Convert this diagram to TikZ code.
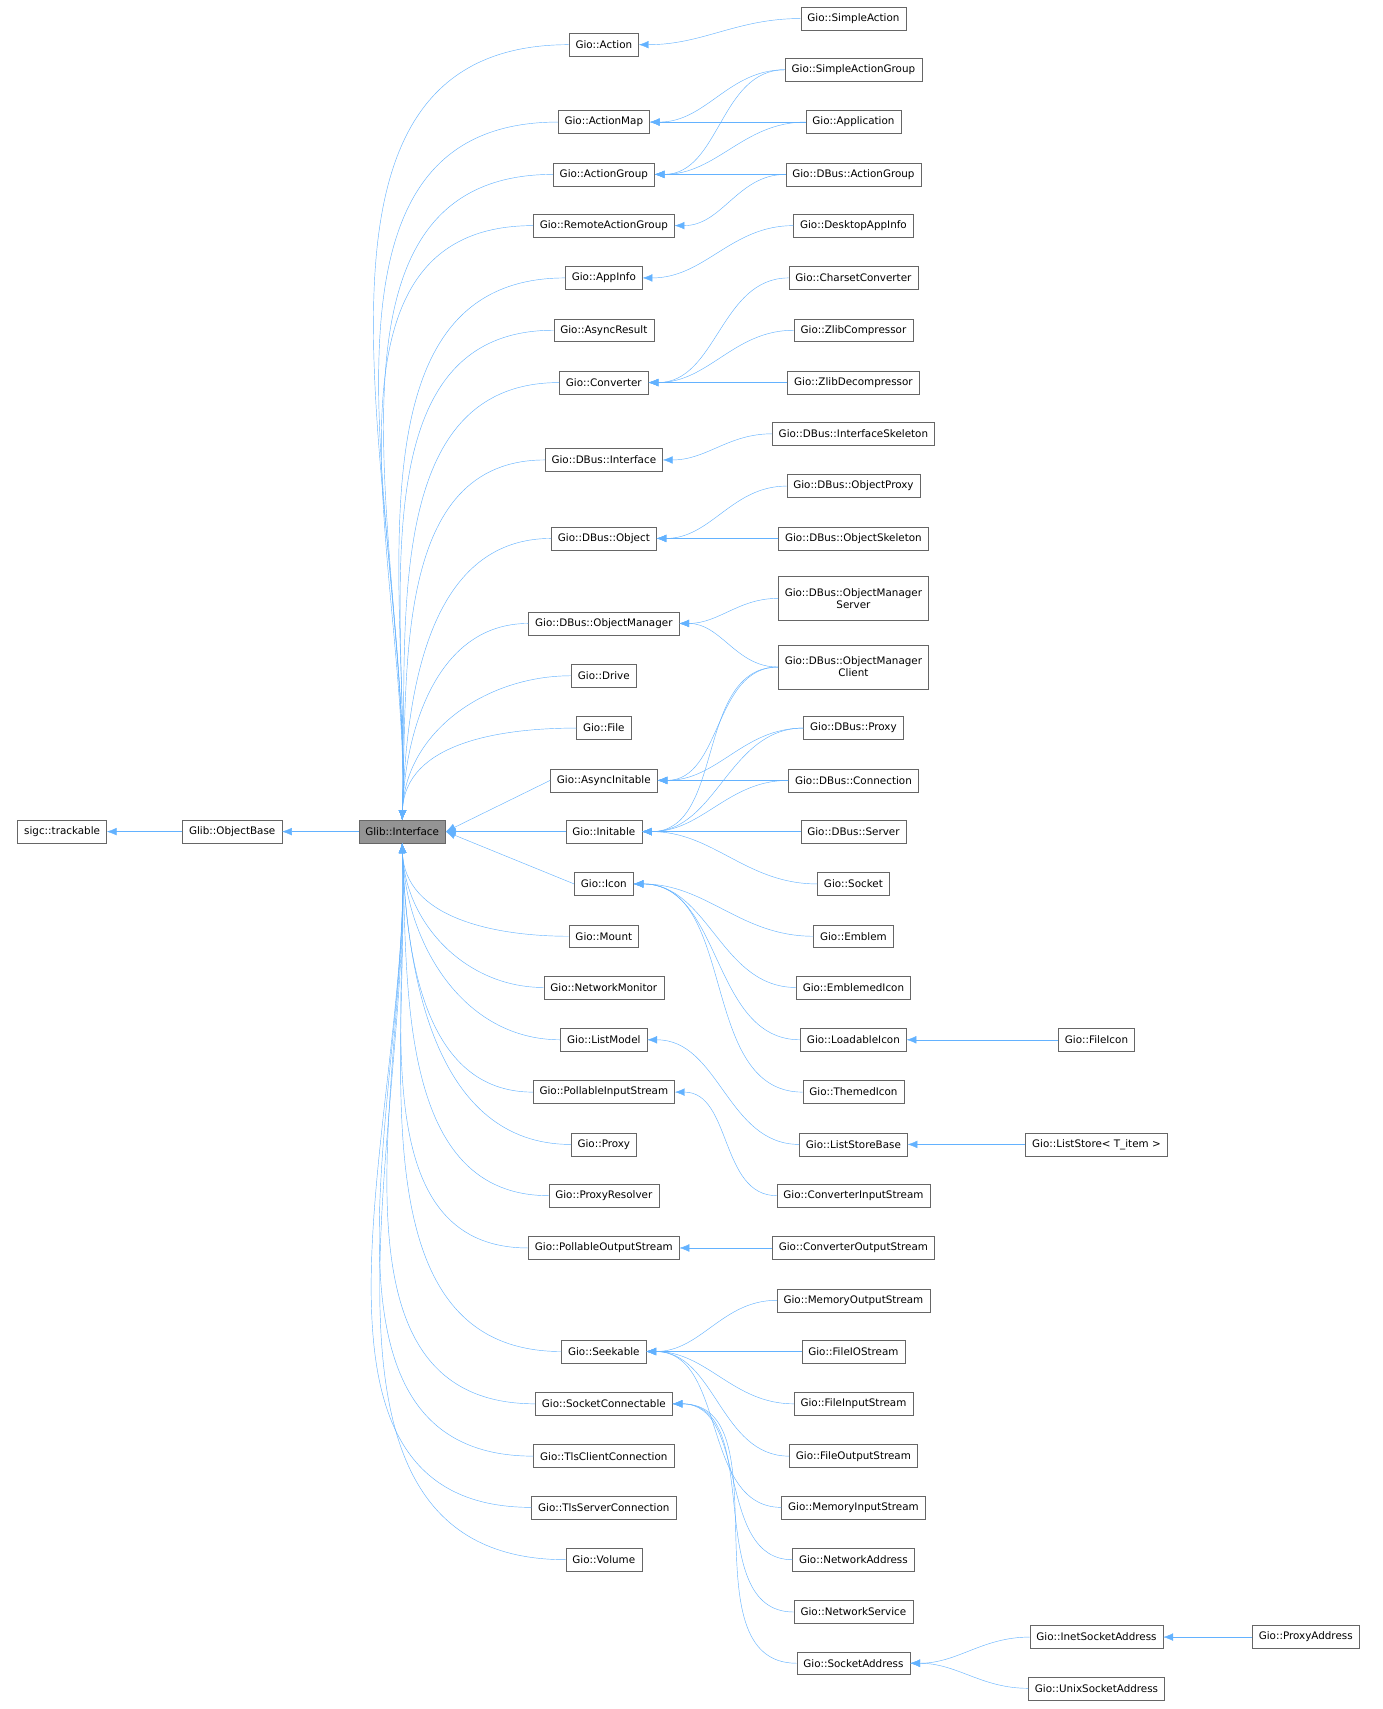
\documentclass[tikz,border=0pt]{standalone}
\usepackage{fontspec}
\setmainfont{DejaVu Sans}
\usetikzlibrary{arrows.meta}
\definecolor{edgeblue}{RGB}{99,178,255}
\tikzset{
	x=1pt, y=-1pt,
	cls/.style={draw=black!60, fill=white, font=\fontsize{9.5}{11}\selectfont, inner xsep=6pt, inner ysep=0pt, minimum height=21pt, align=center},
	inh/.style={draw=edgeblue, -{Latex[length=9pt,width=7pt]}}}

\begin{document}
\begin{tikzpicture}
	\useasboundingbox (0,0) rectangle (1268,1568);
	
	% base chain
	\node[cls] (track) at (57,763) {sigc::trackable};
	\node[cls] (obase) at (213,763) {Glib::ObjectBase};
	\node[cls, fill=black!42] (iface) at (369,763) {Glib::Interface};
	
	% direct interfaces
	\node[cls] (action) at (554,41) {Gio::Action};
	\node[cls] (amap) at (554,112) {Gio::ActionMap};
	\node[cls] (agroup) at (554,160) {Gio::ActionGroup};
	\node[cls] (ragroup) at (554,207) {Gio::RemoteActionGroup};
	\node[cls] (appinfo) at (554,255) {Gio::AppInfo};
	\node[cls] (aresult) at (554,303) {Gio::AsyncResult};
	\node[cls] (conv) at (554,351) {Gio::Converter};
	\node[cls] (dbiface) at (554,422) {Gio::DBus::Interface};
	\node[cls] (dbobj) at (554,494) {Gio::DBus::Object};
	\node[cls] (objman) at (554,572) {Gio::DBus::ObjectManager};
	\node[cls] (drive) at (554,620) {Gio::Drive};
	\node[cls] (file) at (554,668) {Gio::File};
	\node[cls] (ainit) at (554,716) {Gio::AsyncInitable};
	\node[cls] (init) at (554,763) {Gio::Initable};
	\node[cls] (icon) at (554,811) {Gio::Icon};
	\node[cls] (mount) at (554,859) {Gio::Mount};
	\node[cls] (netmon) at (554,906) {Gio::NetworkMonitor};
	\node[cls] (lmodel) at (554,954) {Gio::ListModel};
	\node[cls] (pinput) at (554,1002) {Gio::PollableInputStream};
	\node[cls] (proxy) at (554,1050) {Gio::Proxy};
	\node[cls] (presolv) at (554,1097) {Gio::ProxyResolver};
	\node[cls] (poutput) at (554,1145) {Gio::PollableOutputStream};
	\node[cls] (seek) at (554,1240) {Gio::Seekable};
	\node[cls] (sconn) at (554,1288) {Gio::SocketConnectable};
	\node[cls] (tlsc) at (554,1336) {Gio::TlsClientConnection};
	\node[cls] (tlss) at (554,1383) {Gio::TlsServerConnection};
	\node[cls] (volume) at (554,1431) {Gio::Volume};
	
	% implementations
	\node[cls] (saction) at (783,17) {Gio::SimpleAction};
	\node[cls] (sagroup) at (783,64) {Gio::SimpleActionGroup};
	\node[cls] (app) at (783,112) {Gio::Application};
	\node[cls] (dbagroup) at (783,160) {Gio::DBus::ActionGroup};
	\node[cls] (deskapp) at (783,207) {Gio::DesktopAppInfo};
	\node[cls] (charset) at (783,255) {Gio::CharsetConverter};
	\node[cls] (zcomp) at (783,303) {Gio::ZlibCompressor};
	\node[cls] (zdecomp) at (783,351) {Gio::ZlibDecompressor};
	\node[cls] (iskel) at (783,398) {Gio::DBus::InterfaceSkeleton};
	\node[cls] (oproxy) at (783,446) {Gio::DBus::ObjectProxy};
	\node[cls] (oskel) at (783,494) {Gio::DBus::ObjectSkeleton};
	\node[cls, minimum height=40pt] (omserver) at (783,549) {Gio::DBus::ObjectManager\\Server};
	\node[cls, minimum height=40pt] (omclient) at (783,612) {Gio::DBus::ObjectManager\\Client};
	\node[cls] (dbproxy) at (783,668) {Gio::DBus::Proxy};
	\node[cls] (dbconn) at (783,716) {Gio::DBus::Connection};
	\node[cls] (dbserver) at (783,763) {Gio::DBus::Server};
	\node[cls] (socket) at (783,811) {Gio::Socket};
	\node[cls] (emblem) at (783,859) {Gio::Emblem};
	\node[cls] (emicon) at (783,906) {Gio::EmblemedIcon};
	\node[cls] (licon) at (783,954) {Gio::LoadableIcon};
	\node[cls] (ticon) at (783,1002) {Gio::ThemedIcon};
	\node[cls] (lsbase) at (783,1050) {Gio::ListStoreBase};
	\node[cls] (cinput) at (783,1097) {Gio::ConverterInputStream};
	\node[cls] (coutput) at (783,1145) {Gio::ConverterOutputStream};
	\node[cls] (moutput) at (783,1193) {Gio::MemoryOutputStream};
	\node[cls] (fio) at (783,1240) {Gio::FileIOStream};
	\node[cls] (finput) at (783,1288) {Gio::FileInputStream};
	\node[cls] (foutput) at (783,1336) {Gio::FileOutputStream};
	\node[cls] (minput) at (783,1383) {Gio::MemoryInputStream};
	\node[cls] (netaddr) at (783,1431) {Gio::NetworkAddress};
	\node[cls] (netserv) at (783,1479) {Gio::NetworkService};
	\node[cls] (saddr) at (783,1526) {Gio::SocketAddress};
	
	\node[cls] (ficon) at (1006,954) {Gio::FileIcon};
	\node[cls] (lstore) at (1006,1050) {Gio::ListStore< T\_item >};
	\node[cls] (inet) at (1006,1502) {Gio::InetSocketAddress};
	\node[cls] (unix) at (1006,1549) {Gio::UnixSocketAddress};
	\node[cls] (paddr) at (1198,1502) {Gio::ProxyAddress};
	
	% inheritance
	\draw[inh] (obase) -- (track);
	\draw[inh] (iface) -- (obase);
	\foreach \c in {action,amap,agroup,ragroup,appinfo,aresult,conv,dbiface,dbobj,objman,drive,file}
		\draw[inh] (\c.west) to[out=180,in=88] (iface.north);
	\foreach \c in {mount,netmon,lmodel,pinput,proxy,presolv,poutput,seek,sconn,tlsc,tlss,volume}
		\draw[inh] (\c.west) to[out=180,in=-88] (iface.south);
	\foreach \c in {ainit,init,icon}
		\draw[inh] (\c.west) -- (iface.east);
	\foreach \c/\p in {saction/action,sagroup/amap,app/amap,sagroup/agroup,app/agroup,dbagroup/agroup,
		dbagroup/ragroup,deskapp/appinfo,charset/conv,zcomp/conv,zdecomp/conv,iskel/dbiface,
		oproxy/dbobj,oskel/dbobj,omserver/objman,omclient/objman,omclient/ainit,dbproxy/ainit,dbconn/ainit,
		omclient/init,dbproxy/init,dbconn/init,dbserver/init,socket/init,emblem/icon,emicon/icon,licon/icon,ticon/icon,
		lsbase/lmodel,cinput/pinput,coutput/poutput,moutput/seek,fio/seek,finput/seek,foutput/seek,minput/seek,
		netaddr/sconn,netserv/sconn,saddr/sconn,ficon/licon,lstore/lsbase,inet/saddr,unix/saddr,paddr/inet}
		\draw[inh] (\c.west) to[out=180,in=0] (\p.east);
\end{tikzpicture}
\end{document}
